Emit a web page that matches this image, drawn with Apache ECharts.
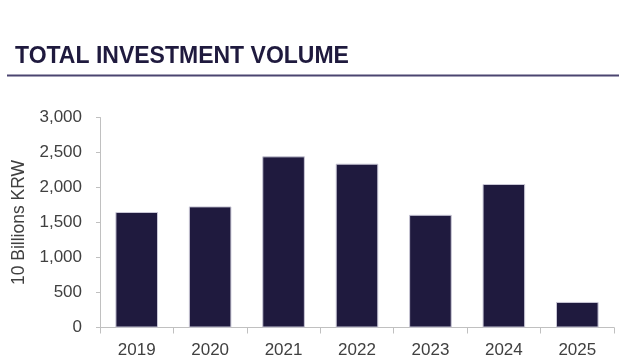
<!DOCTYPE html>
<html>
<head>
<meta charset="utf-8">
<script src="https://cdn.jsdelivr.net/npm/echarts@6/dist/echarts.min.js"></script>
<style>html,body{margin:0;padding:0;background:#fff;}#c{width:627px;height:355px;}</style>
</head>
<body>
<div id="c"></div>
<script>
const categories = ['2019','2020','2021','2022','2023','2024','2025'];
const investment = [1650, 1730, 2445, 2340, 1610, 2050, 365];
const yTicks = [0, 500, 1000, 1500, 2000, 2500, 3000];

const chart = echarts.init(document.getElementById('c'), null, {renderer:'canvas'});
chart.setOption({
  animation: false,
  backgroundColor: '#ffffff',
  title: {
    text: 'TOTAL INVESTMENT VOLUME',
    left: 10, top: 40,
    textStyle: {fontFamily: 'Liberation Sans, Arial, sans-serif', fontWeight: 'bold', fontSize: 23, color: '#1f1a3e'}
  },
  graphic: [{
    type: 'line', shape: {x1: 7, y1: 75.5, x2: 619, y2: 75.5},
    style: {stroke: '#4b4570', lineWidth: 2}
  }],
  grid: {left: 100, right: 13, top: 117.5, bottom: 27.5, containLabel: false, outerBoundsMode: 'none'},
  xAxis: {
    type: 'category', data: categories,
    axisLine: {lineStyle: {color: '#c0c0c0', width: 1}},
    axisTick: {show: true, length: 6, lineStyle: {color: '#c0c0c0'}},
    axisLabel: {margin: 14, fontSize: 17, color: '#404040', fontFamily: 'Liberation Sans, Arial, sans-serif'}
  },
  yAxis: {
    type: 'value', min: 0, max: 3000, interval: 500,
    name: '10 Billions KRW', nameLocation: 'middle', nameGap: 68, nameRotate: 90,
    nameTextStyle: {fontSize: 17.5, color: '#404040', fontFamily: 'Liberation Sans, Arial, sans-serif'},
    axisLine: {show: true, lineStyle: {color: '#c0c0c0', width: 1}},
    axisTick: {show: true, length: 4, lineStyle: {color: '#c0c0c0'}},
    splitLine: {show: false},
    axisLabel: {
      margin: 18, fontSize: 17, color: '#404040', fontFamily: 'Liberation Sans, Arial, sans-serif',
      formatter: v => yTicks.includes(v) ? v.toLocaleString('en-US') : ''
    }
  },
  series: [{
    type: 'bar', data: investment, barWidth: '58%',
    itemStyle: {color: '#1f1a3e', borderColor: '#c9c7d6', borderWidth: 1}
  }]
});
</script>
</body>
</html>
